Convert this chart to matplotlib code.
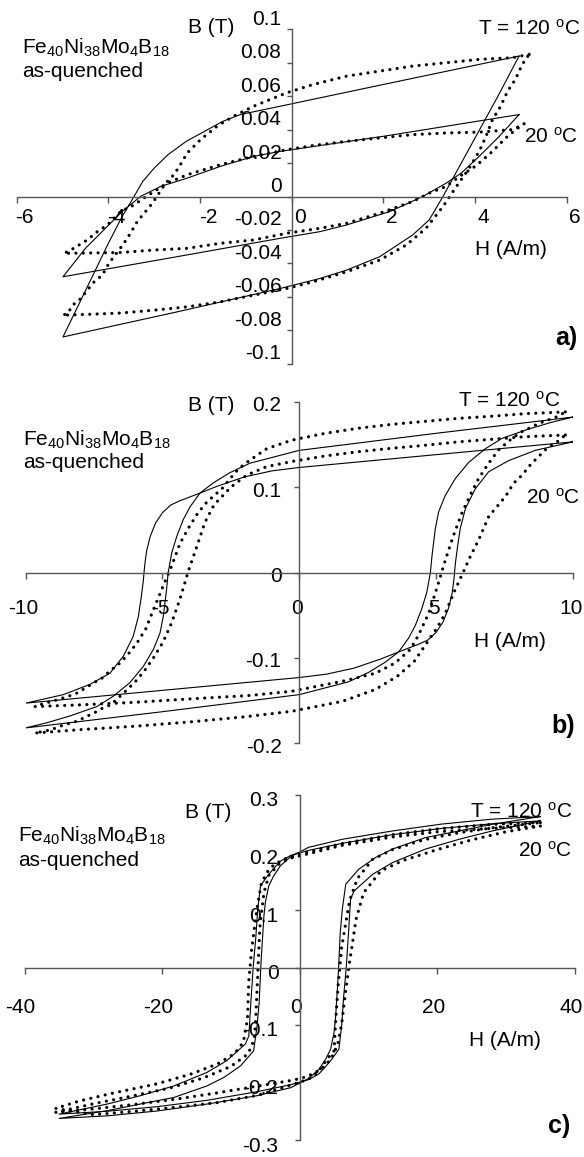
import matplotlib
matplotlib.use("Agg")
import matplotlib.pyplot as plt
from matplotlib.transforms import ScaledTranslation

plt.rcParams['font.family'] = ['Liberation Sans', 'DejaVu Sans']
plt.rcParams['mathtext.fontset'] = 'custom'
plt.rcParams['mathtext.rm'] = 'Liberation Sans'
plt.rcParams['mathtext.it'] = 'Liberation Sans:italic'
plt.rcParams['mathtext.bf'] = 'Liberation Sans:bold'

# ---------------- panel a) data ----------------
a_xticks = [-6, -4, -2, 0, 2, 4, 6]
a_yticks = [-0.1, -0.08, -0.06, -0.04, -0.02, 0, 0.02, 0.04, 0.06, 0.08, 0.1]

# solid (model) loops, closed paths
a_big_H = [4.96, 2.0, -0.25, -1.12, -1.5, -1.9, -2.3, -2.7, -3.0, -3.25, -3.44, -3.7, -4.0, -4.3, -4.6, -4.99,
           -2.5, -0.25, 0.62, 1.2, 1.92, 2.64, 3.0, 3.30, 3.6, 4.0, 4.5, 4.96]
a_big_B = [0.084, 0.067, 0.054, 0.049, 0.045, 0.039, 0.033, 0.025, 0.017, 0.009, 0.0, -0.012, -0.028, -0.045, -0.062, -0.084,
           -0.069, -0.055, -0.049, -0.044, -0.036, -0.023, -0.014, 0.0, 0.015, 0.035, 0.060, 0.084]
a_small_H = [4.96, 2.0, -0.25, -0.83, -1.56, -2.28, -2.86, -3.3, -3.7, -4.1, -4.5, -4.99,
             -2.5, -0.25, 0.62, 1.2, 2.14, 2.86, 3.37, 3.70, 4.09, 4.53, 4.96]
a_small_B = [0.049, 0.036, 0.027, 0.024, 0.018, 0.011, 0.006, 0.0, -0.009, -0.020, -0.031, -0.048,
             -0.036, -0.025, -0.021, -0.017, -0.009, 0.0, 0.008, 0.014, 0.024, 0.036, 0.049]

# dotted (measured) loops
a_dbig_H = [5.18, 4.82, 4.09, 3.37, 2.64, 1.92, 1.2, 0.47, -0.11, -0.83, -1.27, -1.63, -1.99, -2.28, -2.43,
            -2.57, -2.75, -3.04, -3.19, -3.37, -3.52, -3.66, -3.99, -4.13, -4.31, -4.46, -4.6, -4.78, -4.89, -5.0,
            -4.46, -3.73, -3.01, -2.28, -1.56, -0.83, -0.11, 0.47, 1.2, 1.92, 2.5, 2.93, 3.3, 3.62, 3.85, 4.09,
            4.24, 4.38, 4.56, 4.71, 4.88, 5.03, 5.18]
a_dbig_B = [0.085, 0.083, 0.082, 0.080, 0.078, 0.075, 0.072, 0.067, 0.062, 0.054, 0.048, 0.042, 0.034, 0.026, 0.019,
            0.013, 0.008, -0.004, -0.009, -0.015, -0.022, -0.028, -0.040, -0.047, -0.051, -0.056, -0.061, -0.065, -0.070, -0.071,
            -0.0705, -0.0697, -0.068, -0.066, -0.063, -0.059, -0.055, -0.051, -0.045, -0.038, -0.029, -0.019, -0.006, 0.007, 0.016, 0.027,
            0.036, 0.046, 0.054, 0.063, 0.070, 0.079, 0.085]
a_dsmall_H = [5.07, 4.82, 4.09, 3.37, 2.64, 1.92, 1.2, 0.47, -0.11, -0.83, -1.56, -2.28, -2.72, -3.0, -3.23, -3.44,
              -3.73, -4.02, -4.24, -4.46, -4.67, -4.82, -4.97,
              -3.73, -3.0, -2.28, -1.56, -0.83, -0.11, 0.62, 1.2, 1.92, 2.64, 3.0, 3.37, 3.66, 3.95, 4.09, 4.38,
              4.67, 4.89, 5.07]
a_dsmall_B = [0.0435, 0.040, 0.0385, 0.038, 0.037, 0.035, 0.033, 0.0305, 0.028, 0.024, 0.019, 0.013, 0.008, 0.003, -0.001, -0.005,
              -0.009, -0.017, -0.021, -0.026, -0.0295, -0.032, -0.034,
              -0.0335, -0.032, -0.031, -0.028, -0.026, -0.022, -0.019, -0.016, -0.010, -0.003, 0.002, 0.006, 0.012, 0.017, 0.020, 0.027,
              0.035, 0.040, 0.0435]

# ---------------- panel b) data ----------------
b_xticks = [-10, -5, 0, 5, 10]
b_yticks = [-0.2, -0.1, 0, 0.1, 0.2]

b_s1_H = [10, 5, 0, -1.8, -2.53, -3.14, -3.63, -3.99, -4.24, -4.48, -4.66, -4.79, -4.85, -4.97, -5.09, -5.33, -5.70,
          -6.19, -6.80, -7.40, -8.38, -9.23, -10,
          -5, 0, 1.8, 2.53, 3.14, 3.63, 3.99, 4.24, 4.48, 4.66, 4.79, 4.85, 4.97, 5.09, 5.33, 5.70,
          6.19, 6.80, 7.40, 8.38, 9.23, 10]
b_s1_B = [0.182, 0.163, 0.143, 0.128, 0.117, 0.105, 0.093, 0.077, 0.062, 0.042, 0.023, 0.0, -0.020, -0.0515, -0.071, -0.090, -0.110,
          -0.129, -0.145, -0.157, -0.168, -0.176, -0.182,
          -0.163, -0.143, -0.128, -0.117, -0.105, -0.093, -0.077, -0.062, -0.042, -0.023, 0.0, 0.020, 0.0515, 0.071, 0.090, 0.110,
          0.129, 0.145, 0.157, 0.168, 0.176, 0.182]
b_s2_H = [10, 5, 0, -1.0, -2.0, -3.0, -3.63, -4.36, -4.7, -5.0, -5.25, -5.45, -5.58, -5.65, -5.70, -5.78, -5.88, -6.07,
          -6.43, -6.92, -7.65, -8.62, -10,
          -5, 0, 1.0, 2.0, 3.0, 3.63, 4.36, 4.7, 5.0, 5.25, 5.45, 5.58, 5.65, 5.70, 5.78, 5.88, 6.07,
          6.43, 6.92, 7.65, 8.62, 10]
b_s2_B = [0.153, 0.138, 0.123, 0.119, 0.112, 0.101, 0.093, 0.084, 0.079, 0.070, 0.058, 0.042, 0.025, 0.008, -0.010, -0.030, -0.0515, -0.075,
          -0.098, -0.118, -0.131, -0.143, -0.153,
          -0.138, -0.123, -0.119, -0.112, -0.101, -0.093, -0.084, -0.079, -0.070, -0.058, -0.042, -0.025, -0.008, 0.010, 0.030, 0.0515, 0.075,
          0.098, 0.118, 0.131, 0.143, 0.153]

b_dP_H = [9.72, 8.26, 7.04, 5.82, 4.6, 3.39, 2.17, 0.95, -0.27, -1.19, -1.92, -2.23, -2.53, -2.84, -3.12, -3.45, -3.75,
          -4.05, -4.36, -4.66, -4.97, -5.31, -5.61, -5.94, -6.25, -6.55, -6.89, -7.20, -7.50, -7.80, -8.11, -8.44,
          -8.74, -9.05, -9.35, -9.66,
          -8.0, -6.0, -4.0, -1.8, -0.27, 1.56, 2.78, 3.5, 4.06, 4.36, 4.73, 5.03, 5.34, 5.64, 5.94, 6.25, 6.55,
          6.92, 7.28, 7.77, 8.14, 8.75, 9.42, 9.72]
b_dP_B = [0.188, 0.186, 0.183, 0.1805, 0.177, 0.1735, 0.169, 0.163, 0.155, 0.145, 0.129, 0.121, 0.110, 0.0975, 0.090, 0.080, 0.0675,
          0.052, 0.034, 0.008, -0.0155, -0.042, -0.066, -0.083, -0.0955, -0.106, -0.1145, -0.1235, -0.129, -0.135, -0.141, -0.145,
          -0.148, -0.151, -0.1535, -0.157,
          -0.155, -0.152, -0.148, -0.144, -0.139, -0.1275, -0.118, -0.106, -0.090, -0.073, -0.0475, -0.018, 0.015, 0.044, 0.0695, 0.091, 0.110,
          0.128, 0.1435, 0.157, 0.165, 0.1745, 0.1825, 0.188]
b_dQ_H = [9.72, 8.26, 7.04, 5.82, 4.6, 3.39, 2.17, 0.95, -0.27, -1.19, -1.92, -2.5, -3.12, -3.45, -3.75, -4.05, -4.36,
          -4.66, -4.97, -5.31, -5.61, -5.94, -6.25, -6.55, -6.89, -7.2, -7.5, -7.8, -8.11, -8.44, -8.74, -9.05, -9.35, -9.66,
          -8.0, -6.0, -4.0, -2.0, -0.27, 1.56, 2.78, 3.6, 4.2, 4.73, 5.03, 5.34, 5.64, 5.94, 6.25, 6.55, 6.92,
          7.53, 7.83, 8.14, 8.44, 8.75, 9.05, 9.42, 9.72]
b_dQ_B = [0.161, 0.159, 0.156, 0.153, 0.149, 0.1455, 0.1415, 0.1365, 0.130, 0.124, 0.114, 0.100, 0.079, 0.0585, 0.030, 0.002, -0.031,
          -0.0585, -0.081, -0.099, -0.113, -0.126, -0.136, -0.145, -0.155, -0.159, -0.1645, -0.169, -0.174, -0.177, -0.180, -0.184, -0.186, -0.188,
          -0.184, -0.180, -0.175, -0.169, -0.1625, -0.151, -0.137, -0.121, -0.104, -0.079, -0.065, -0.0475, -0.024, -0.003, 0.019, 0.038, 0.0655,
          0.089, 0.1045, 0.114, 0.126, 0.136, 0.1455, 0.153, 0.161]

# ---------------- panel c) data ----------------
c_xticks = [-40, -20, 0, 20, 40]
c_yticks = [-0.3, -0.2, -0.1, 0, 0.1, 0.2, 0.3]

c_s1_H = [35, 28, 20.7, 13.5, 6.2, 1.3, -1.3, -2.8, -3.8, -4.5, -5.0, -5.2, -5.6, -5.9, -6.2, -6.7, -8.6, -11, -13.5,
          -18.3, -23.2, -28, -35,
          -28, -20.7, -13.5, -6.2, -1.3, 1.3, 2.8, 3.8, 4.5, 5.0, 5.2, 5.6, 5.9, 6.2, 6.7, 8.6, 11, 13.5,
          18.3, 23.2, 28, 35]
c_s1_B = [0.2625, 0.258, 0.2495, 0.2375, 0.223, 0.209, 0.193, 0.177, 0.159, 0.142, 0.113, 0.090, 0.0145, -0.061, -0.1015, -0.145, -0.171, -0.191, -0.206,
          -0.226, -0.2375, -0.249, -0.2625,
          -0.258, -0.2495, -0.2375, -0.223, -0.209, -0.193, -0.177, -0.159, -0.142, -0.113, -0.090, -0.0145, 0.061, 0.1015, 0.145, 0.171, 0.191, 0.206,
          0.226, 0.2375, 0.249, 0.2625]
c_s2_H = [35, 28, 20.7, 13.5, 6.2, 1.4, -1.3, -2.8, -3.8, -4.7, -5.7, -6.1, -6.4, -6.77, -7.1, -7.4, -7.9, -10.6, -13.5,
          -18.3, -23.2, -28, -35,
          -28, -20.7, -13.5, -6.2, -1.4, 1.3, 2.8, 3.8, 4.7, 5.7, 6.1, 6.4, 6.77, 7.1, 7.4, 7.9, 10.6, 13.5,
          18.3, 23.2, 28, 35]
c_s2_B = [0.255, 0.250, 0.242, 0.231, 0.216, 0.204, 0.195, 0.185, 0.172, 0.159, 0.142, 0.1015, 0.05, 0.0, -0.06, -0.119, -0.133, -0.162, -0.1825,
          -0.206, -0.223, -0.2375, -0.255,
          -0.250, -0.242, -0.231, -0.216, -0.204, -0.195, -0.185, -0.172, -0.159, -0.142, -0.1015, -0.05, 0.0, 0.06, 0.119, 0.133, 0.162, 0.1825,
          0.206, 0.223, 0.2375, 0.255]

c_d1_H = [35, 28, 20, 13.5, 6, 1, -2.4, -3.8, -4.8, -5.6, -6.3, -7.0, -7.4, -7.6, -8.2, -9.5, -12, -16, -21, -27, -32, -35.5,
          -30, -24, -18, -12, -6, -1.4, 0.6, 1.8, 2.8, 4.0, 5.0, 5.2, 5.6, 6.1, 7.25, 8.4, 10.6, 13.5, 18, 23, 28, 35]
c_d1_B = [0.252, 0.249, 0.241, 0.231, 0.215, 0.200, 0.188, 0.178, 0.165, 0.145, 0.096, 0.03, -0.023, -0.09, -0.13, -0.150, -0.168, -0.186, -0.203, -0.218, -0.232, -0.245,
          -0.256, -0.250, -0.243, -0.235, -0.222, -0.205, -0.197, -0.191, -0.180, -0.159, -0.145, -0.0985, -0.03, 0.035, 0.116, 0.155, 0.188, 0.205, 0.222, 0.234, 0.243, 0.252]
c_d2_H = [35, 28, 20, 13.5, 6, 1, -1.4, -3, -4.5, -5.2, -5.8, -6.2, -6.4, -6.6, -7.5, -10, -14, -19, -25, -30, -35.5,
          -30, -24, -18, -12, -6, -1, 1, 3, 4.5, 5.5, 6.1, 6.7, 7.25, 8.2, 9.3, 11.8, 15, 20, 25, 30, 35]
c_d2_B = [0.246, 0.242, 0.236, 0.227, 0.212, 0.197, 0.190, 0.180, 0.160, 0.130, 0.070, -0.038, -0.09, -0.125, -0.150, -0.172, -0.192, -0.210, -0.225, -0.237, -0.252,
          -0.246, -0.238, -0.229, -0.218, -0.206, -0.196, -0.190, -0.178, -0.160, -0.135, -0.0985, -0.04, 0.009, 0.084, 0.130, 0.168, 0.186, 0.205, 0.222, 0.236, 0.246]

FORMULA = r'Fe$_{40}$Ni$_{38}$Mo$_{4}$B$_{18}$'
T_HIGH = r'T = 120 $^{\mathrm{o}}$C'
T_LOW = r'20 $^{\mathrm{o}}$C'

W, HP = 584, 1157
fig = plt.figure(figsize=(W / 100, HP / 100), dpi=100)
FS = 15
AXCOL = '#555555'


def px(x, y):
    return x / W, 1 - y / HP


def shift(labels, dx, dy):
    # dx, dy in pixels
    off = ScaledTranslation(dx / 100, dy / 100, fig.dpi_scale_trans)
    for lab in labels:
        lab.set_transform(lab.get_transform() + off)


def panel(box, xlim, ylim, xticks, yticks, solids, dots, xpad, ypad, xoff, yoff):
    x0, y0, x1, y1 = box
    ax = fig.add_axes([x0 / W, 1 - y1 / HP, (x1 - x0) / W, (y1 - y0) / HP])
    for Hs, Bs in solids:
        ax.plot(Hs, Bs, color='black', lw=0.8)
    for Hs, Bs in dots:
        ax.plot(Hs, Bs, color='black', lw=2.3, linestyle=(0, (0.01, 2.3)),
                dash_capstyle='round', clip_on=False)
    ax.set_xlim(*xlim)
    ax.set_ylim(*ylim)
    for s in ('top', 'right'):
        ax.spines[s].set_visible(False)
    ax.spines['left'].set_position(('data', 0))
    ax.spines['bottom'].set_position(('data', 0))
    for s in ('left', 'bottom'):
        ax.spines[s].set_color(AXCOL)
        ax.spines[s].set_linewidth(1.0)
    ax.set_xticks(xticks, [f'{v:g}' for v in xticks])
    ax.set_yticks(yticks, [f'{v:g}' for v in yticks])
    ax.tick_params(axis='x', direction='out', length=4.5, width=1.0, color=AXCOL,
                   labelsize=FS, pad=xpad)
    ax.tick_params(axis='y', direction='out', length=3.8, width=1.0, color=AXCOL,
                   labelsize=FS, pad=ypad)
    ax.patch.set_visible(False)
    shift(ax.get_xticklabels(), xoff, 0)
    shift(ax.get_yticklabels(), 0, yoff)
    return ax


# panel a
panel((16.7, 29.3, 566.7, 363.7), (-6, 6), (-0.1, 0.1), a_xticks, a_yticks,
      [(a_big_H, a_big_B), (a_small_H, a_small_B)],
      [(a_dbig_H, a_dbig_B), (a_dsmall_H, a_dsmall_B)],
      xpad=3.5, ypad=3.6, xoff=8, yoff=12)
# panel b
panel((25.6, 401.7, 573, 743.3), (-10, 10), (-0.2, 0.2), b_xticks, b_yticks,
      [(b_s1_H, b_s1_B), (b_s2_H, b_s2_B)],
      [(b_dP_H, b_dP_B), (b_dQ_H, b_dQ_B)],
      xpad=14.5, ypad=9.0, xoff=-2, yoff=-2)
# panel c
panel((24.7, 795, 574.7, 1140), (-40, 40), (-0.3, 0.3), c_xticks, c_yticks,
      [(c_s1_H, c_s1_B), (c_s2_H, c_s2_B)],
      [(c_d1_H, c_d1_B), (c_d2_H, c_d2_B)],
      xpad=17.5, ypad=11.5, xoff=-4, yoff=-4)

# annotations (pixel positions of baselines)
texts = [
    # (x, y, text, ha, weight, size)
    (211, 33, 'B (T)', 'center', 'normal', FS),
    (22, 54, FORMULA, 'left', 'normal', FS),
    (22, 77, 'as-quenched', 'left', 'normal', FS),
    (580, 35, T_HIGH, 'right', 'normal', FS),
    (578, 143, T_LOW, 'right', 'normal', FS),
    (475, 255, 'H (A/m)', 'left', 'normal', FS),
    (578, 345, 'a)', 'right', 'bold', 18),

    (211, 411, 'B (T)', 'center', 'normal', FS),
    (23, 446, FORMULA, 'left', 'normal', FS),
    (23, 468, 'as-quenched', 'left', 'normal', FS),
    (560, 407, T_HIGH, 'right', 'normal', FS),
    (580, 504, T_LOW, 'right', 'normal', FS),
    (474, 647, 'H (A/m)', 'left', 'normal', FS),
    (575, 733, 'b)', 'right', 'bold', 18),

    (208, 818, 'B (T)', 'center', 'normal', FS),
    (18, 842, FORMULA, 'left', 'normal', FS),
    (18, 866, 'as-quenched', 'left', 'normal', FS),
    (572, 818, T_HIGH, 'right', 'normal', FS),
    (572, 857, T_LOW, 'right', 'normal', FS),
    (469, 1046, 'H (A/m)', 'left', 'normal', FS),
    (570, 1133, 'c)', 'right', 'bold', 18),
]
for x, y, s, ha, wt, size in texts:
    fx, fy = px(x, y)
    fig.text(fx, fy, s, ha=ha, va='baseline', fontsize=size, fontweight=wt)

fig.savefig('out.png', dpi=100)
